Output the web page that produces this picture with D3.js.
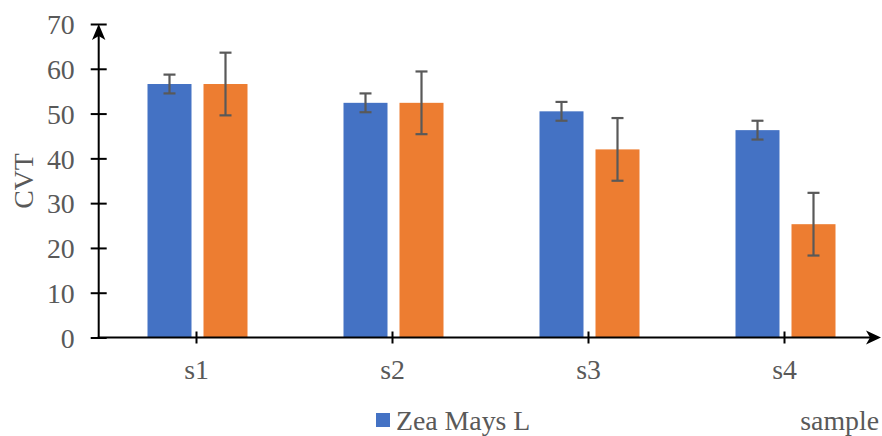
<!DOCTYPE html>
<html>
<head>
<meta charset="utf-8">
<script src="https://cdn.jsdelivr.net/npm/d3@7"></script>
<style>
  html, body { margin: 0; padding: 0; background: #fff; }
  svg { display: block; }
  text { font-family: "Liberation Serif", "Times New Roman", serif; }
</style>
</head>
<body>
<svg id="chart" width="882" height="436"></svg>
<script>
// ---- data ----
const categories = ["s1", "s2", "s3", "s4"];
const seriesNames = ["Zea Mays L", "Series 2"];
const zeaValues = [56.6, 52.4, 50.5, 46.3];
const zeaErrors = [2.1, 2.1, 2.1, 2.1];
const series2Values = [56.6, 52.4, 42.0, 25.3];
const series2Errors = [7.0, 7.0, 7.0, 7.0];
const yTicks = [0, 10, 20, 30, 40, 50, 60, 70];
const yTitle = "CVT";
const xTitle = "sample";
const legendNames = ["Zea Mays L"];

const colors = ["#4472C4", "#ED7D31"];
const textColor = "#595959";
const fontSize = 27.8;

const svg = d3.select("#chart");

const x = d3.scaleBand().domain(categories).range([98.5, 882.5]);
const xSub = d3.scaleBand().domain(seriesNames).range([-49, 51]).paddingInner(12 / 56);
const y = d3.scaleLinear().domain([0, 70]).range([337.5, 24]);

const rows = [];
categories.forEach((c, i) => {
  rows.push({ cat: c, s: seriesNames[0], v: zeaValues[i], e: zeaErrors[i], k: 0 });
  rows.push({ cat: c, s: seriesNames[1], v: series2Values[i], e: series2Errors[i], k: 1 });
});
const cx = d => x(d.cat) + x.bandwidth() / 2 + xSub(d.s);

// bars
svg.append("g").selectAll("rect").data(rows).join("rect")
  .attr("x", d => cx(d))
  .attr("y", d => y(d.v))
  .attr("width", xSub.bandwidth())
  .attr("height", d => y(0) - y(d.v))
  .attr("fill", d => colors[d.k]);

// error bars
const eb = svg.append("g").attr("stroke", "#595959").attr("stroke-width", 2.2);
rows.forEach(d => {
  const mx = cx(d) + xSub.bandwidth() / 2;
  eb.append("line").attr("x1", mx).attr("x2", mx).attr("y1", y(d.v + d.e)).attr("y2", y(d.v - d.e));
  eb.append("line").attr("x1", mx - 6).attr("x2", mx + 6).attr("y1", y(d.v + d.e)).attr("y2", y(d.v + d.e));
  eb.append("line").attr("x1", mx - 6).attr("x2", mx + 6).attr("y1", y(d.v - d.e)).attr("y2", y(d.v - d.e));
});

// y axis
const yAxisG = svg.append("g").attr("transform", "translate(98.7,0)")
  .call(d3.axisLeft(y).tickValues(yTicks).tickSize(8).tickPadding(16).tickSizeOuter(0));
yAxisG.select(".domain").remove();
yAxisG.selectAll(".tick line").attr("x1", -8).attr("x2", 8).attr("stroke", "#000").attr("stroke-width", 2);
yAxisG.selectAll(".tick text").attr("fill", textColor).attr("font-size", fontSize)
  .attr("font-family", "Liberation Serif").attr("dy", "0.35em");

// x axis
const xAxisG = svg.append("g").attr("transform", `translate(0,${y(0)})`)
  .call(d3.axisBottom(x).tickSize(6).tickPadding(16).tickSizeOuter(0));
xAxisG.select(".domain").remove();
xAxisG.selectAll(".tick line").attr("y1", -6).attr("y2", 6).attr("stroke", "#000").attr("stroke-width", 2);
xAxisG.selectAll(".tick text").attr("fill", textColor).attr("font-size", fontSize)
  .attr("font-family", "Liberation Serif");

// axis lines with arrows
svg.append("line").attr("x1", 98.7).attr("x2", 98.7).attr("y1", y(0)).attr("y2", 30)
  .attr("stroke", "#000").attr("stroke-width", 2);
svg.append("path").attr("d", `M98.7,${y(70)} L92,40 L98.7,36 L105.4,40 Z`).attr("fill", "#000");
svg.append("line").attr("x1", 97.7).attr("x2", 874).attr("y1", y(0)).attr("y2", y(0))
  .attr("stroke", "#000").attr("stroke-width", 2);
svg.append("path").attr("d", `M881,${y(0)} L866,${y(0) - 7} L870,${y(0)} L866,${y(0) + 7} Z`).attr("fill", "#000");

// y title
svg.append("text").attr("transform", "translate(33,181) rotate(-90)")
  .attr("text-anchor", "middle").attr("fill", textColor).attr("font-size", fontSize).text(yTitle);

// x title
svg.append("text").attr("x", 879).attr("y", 430).attr("text-anchor", "end")
  .attr("fill", textColor).attr("font-size", fontSize).text(xTitle);

// legend
const lg = svg.append("g");
legendNames.forEach((n, i) => {
  lg.append("rect").attr("x", 376).attr("y", 413).attr("width", 14).attr("height", 14).attr("fill", colors[i]);
  lg.append("text").attr("x", 396).attr("y", 429.5).attr("fill", textColor).attr("font-size", fontSize).text(n);
});
</script>
</body>
</html>
